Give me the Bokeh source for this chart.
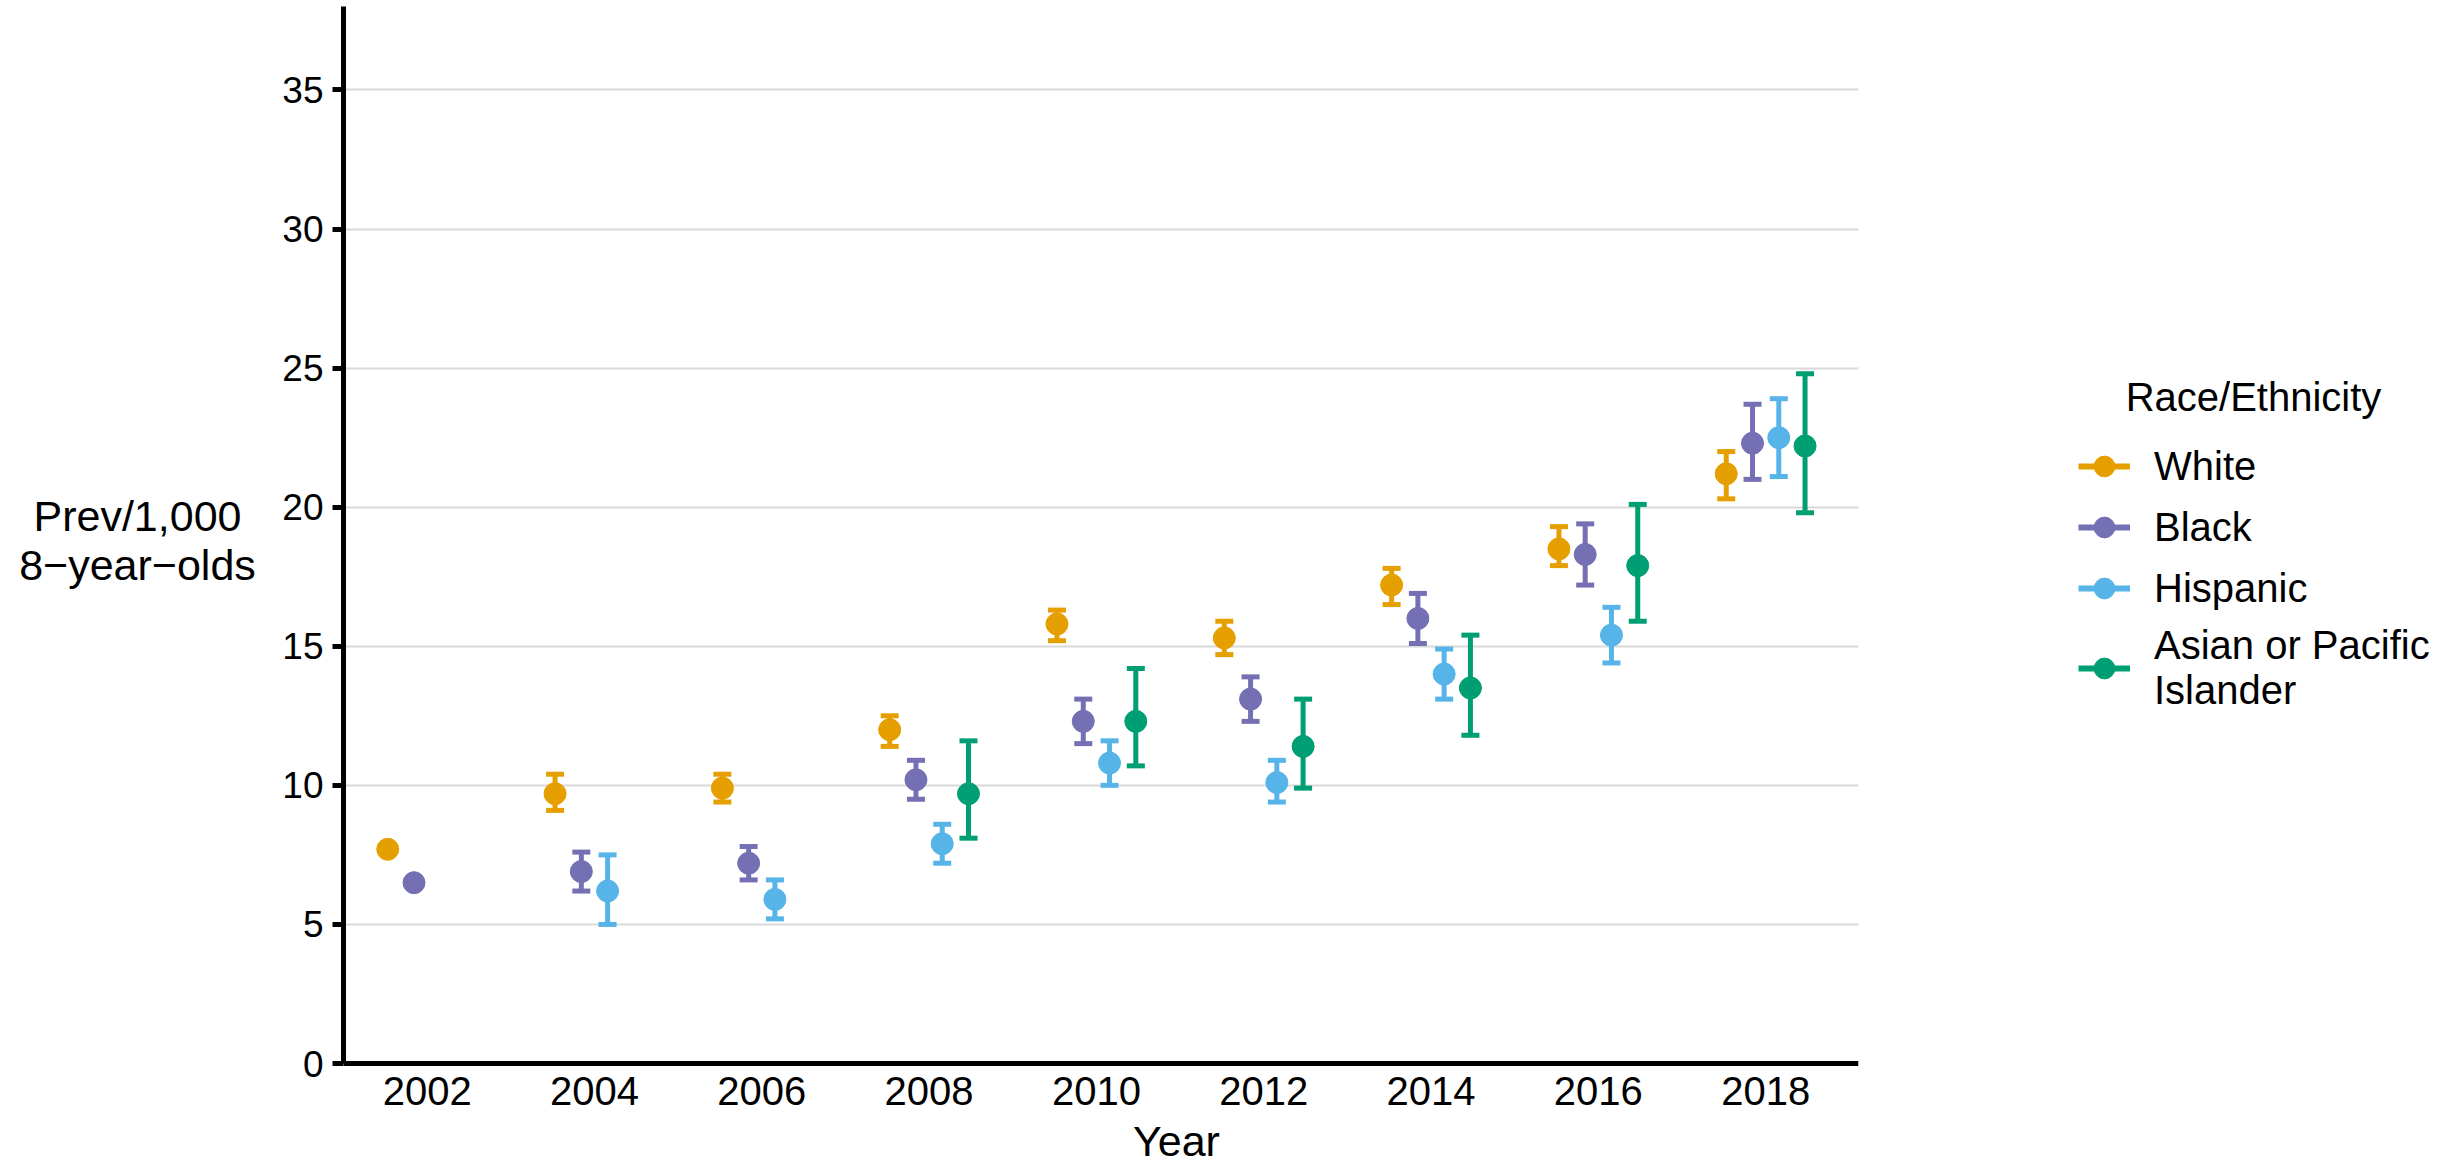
import math
from bokeh.plotting import figure
from bokeh.layouts import row
from bokeh.models import (Range1d, FixedTicker, Legend, LegendItem, Label,
                          ColumnDataSource)
from bokeh.embed import file_html
from bokeh.resources import INLINE

nan = math.nan

years = [2002, 2004, 2006, 2008, 2010, 2012, 2014, 2016, 2018]
y_ticks = [0, 5, 10, 15, 20, 25, 30, 35]
groups = ["White", "Black", "Hispanic", "Asian or Pacific Islander"]
legend_labels = ["White", "Black", "Hispanic", "Asian or Pacific\nIslander"]
colors = ["#E69F00", "#7570B3", "#56B4E9", "#009E73"]

white_prev = [7.7, 9.7, 9.9, 12.0, 15.8, 15.3, 17.2, 18.5, 21.2]
white_lo = [nan, 9.1, 9.4, 11.4, 15.2, 14.7, 16.5, 17.9, 20.3]
white_hi = [nan, 10.4, 10.4, 12.5, 16.3, 15.9, 17.8, 19.3, 22.0]

black_prev = [6.5, 6.9, 7.2, 10.2, 12.3, 13.1, 16.0, 18.3, 22.3]
black_lo = [nan, 6.2, 6.6, 9.5, 11.5, 12.3, 15.1, 17.2, 21.0]
black_hi = [nan, 7.6, 7.8, 10.9, 13.1, 13.9, 16.9, 19.4, 23.7]

hisp_prev = [nan, 6.2, 5.9, 7.9, 10.8, 10.1, 14.0, 15.4, 22.5]
hisp_lo = [nan, 5.0, 5.2, 7.2, 10.0, 9.4, 13.1, 14.4, 21.1]
hisp_hi = [nan, 7.5, 6.6, 8.6, 11.6, 10.9, 14.9, 16.4, 23.9]

api_prev = [nan, nan, nan, 9.7, 12.3, 11.4, 13.5, 17.9, 22.2]
api_lo = [nan, nan, nan, 8.1, 10.7, 9.9, 11.8, 15.9, 19.8]
api_hi = [nan, nan, nan, 11.6, 14.2, 13.1, 15.4, 20.1, 24.8]

series = [
    (white_prev, white_lo, white_hi),
    (black_prev, black_lo, black_hi),
    (hisp_prev, hisp_lo, hisp_hi),
    (api_prev, api_lo, api_hi),
]

DODGE = 0.314  # years between dodged groups
FONT = "Liberation Sans"

H = 1165
LEFT_W = 270
MAIN_W = 1593
LEG_W = 2461 - LEFT_W - MAIN_W
Y_TOP = 38.0
PX_PER_UNIT = (1063 - 6) / Y_TOP
Y_BOTTOM = -(H - 1063) / PX_PER_UNIT

def blank(width):
    f = figure(width=width, height=H, x_range=Range1d(0, 1), y_range=Range1d(0, 1),
               output_backend="svg", toolbar_location=None,
               x_axis_location=None, y_axis_location=None, min_border=0)
    f.outline_line_color = None
    f.grid.visible = False
    f.background_fill_color = "white"
    f.border_fill_color = "white"
    return f

# ---- left panel: y-axis title
lfig = blank(LEFT_W)
lfig.add_layout(Label(x=137, y=H - 540, x_units="screen", y_units="screen",
                      text="Prev/1,000\n8\u2212year\u2212olds", text_font=FONT,
                      text_font_size="43px", text_color="black",
                      text_line_height=1.04,
                      text_align="center", text_baseline="middle"))

# ---- main plot
p = figure(width=MAIN_W, height=H,
           x_range=Range1d(2001.0, 2019.11), y_range=Range1d(Y_BOTTOM, Y_TOP),
           output_backend="svg", toolbar_location=None,
           min_border_left=73, min_border_right=5,
           min_border_top=6, min_border_bottom=0)
p.outline_line_color = None
p.background_fill_color = "white"
p.border_fill_color = "white"

p.xgrid.grid_line_color = None
p.ygrid.grid_line_color = "#D9D9D9"
p.ygrid.grid_line_width = 2

for ax in (p.xaxis, p.yaxis):
    ax.axis_line_color = "black"
    ax.axis_line_width = 5
    ax.major_label_text_font = FONT
    ax.major_label_text_color = "black"
    ax.minor_tick_line_color = None

p.xaxis.ticker = FixedTicker(ticks=years)
p.xaxis.fixed_location = 0
p.xaxis.major_label_text_font_size = "40px"
p.xaxis.major_tick_line_color = None
p.xaxis.major_tick_out = 0
p.xaxis.major_tick_in = 0
p.xaxis.major_label_standoff = 13

p.yaxis.ticker = FixedTicker(ticks=y_ticks)
p.yaxis.bounds = (0, Y_TOP)
p.yaxis.major_label_text_font_size = "37px"
p.yaxis.major_tick_line_color = "black"
p.yaxis.major_tick_line_width = 5
p.yaxis.major_tick_out = 11
p.yaxis.major_tick_in = 0
p.yaxis.major_label_standoff = 9

p.add_layout(Label(x=833, y=25, x_units="screen", y_units="screen",
                   text="Year", text_font=FONT, text_font_size="43px",
                   text_color="black", text_align="center", text_baseline="middle"))

for i, (prev, lo, hi) in enumerate(series):
    off = (i - 1.5) * DODGE
    c = colors[i]
    pts = dict(x=[], y=[])
    bars = dict(x=[], lo=[], hi=[])
    for yr, v, l, h in zip(years, prev, lo, hi):
        if not math.isnan(v):
            pts["x"].append(yr + off)
            pts["y"].append(v)
        if not math.isnan(l):
            bars["x"].append(yr + off)
            bars["lo"].append(l)
            bars["hi"].append(h)
    bsrc = ColumnDataSource(bars)
    psrc = ColumnDataSource(pts)
    p.segment(x0="x", y0="lo", x1="x", y1="hi", source=bsrc,
              line_color=c, line_width=5)
    p.scatter(x="x", y="lo", source=bsrc, marker="dash", size=18,
              line_color=c, line_width=5)
    p.scatter(x="x", y="hi", source=bsrc, marker="dash", size=18,
              line_color=c, line_width=5)
    p.scatter(x="x", y="y", source=psrc, marker="circle", size=22,
              fill_color=c, line_color=c, line_width=1)

# ---- right panel: legend (key glyphs from off-screen sample renderers)
lf = blank(LEG_W)
items = []
for i, c in enumerate(colors):
    seg = lf.segment(x0=[-5], y0=[-5], x1=[-4], y1=[-5], line_color=c, line_width=6)
    dot = lf.scatter(x=[-5], y=[-5], marker="circle", fill_color=c, line_color=c)
    items.append(LegendItem(label=legend_labels[i], renderers=[seg, dot]))

legend = Legend(items=items, location=(215, 452),
                glyph_width=52, glyph_height=52, label_height=52,
                label_standoff=24, spacing=9, padding=10, margin=0,
                label_text_font=FONT, label_text_font_size="40px",
                label_text_line_height=1.125,
                label_text_color="black",
                background_fill_alpha=0, border_line_color=None)
lf.add_layout(legend)

lf.add_layout(Label(x=390, y=H - 396, x_units="screen", y_units="screen",
                    text="Race/Ethnicity", text_font=FONT, text_font_size="40px",
                    text_color="black", text_align="center", text_baseline="middle"))

layout = row(lfig, p, lf, spacing=0)
open("out.html", "w").write(file_html(layout, INLINE))
